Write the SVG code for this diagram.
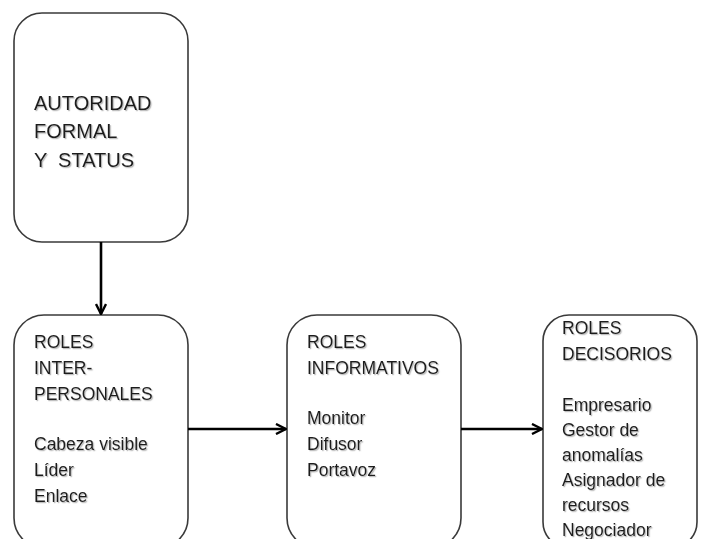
<svg xmlns="http://www.w3.org/2000/svg" width="705" height="539" viewBox="0 0 705 539">
  <style>
    .box { fill: #ffffff; stroke: #3a3a3a; stroke-width: 1.6; }
    .lbl { font-family: "Liberation Sans", Arial, sans-serif; fill: #1e1e1e; white-space: pre; filter: url(#textShadow); }
    .big { font-size: 20px; }
    .small { font-size: 17.5px; }
    .link { stroke: #000000; stroke-width: 2.6; fill: none; }
  </style>
  <defs>
    <filter id="textShadow" x="-5%" y="-20%" width="115%" height="150%">
      <feDropShadow dx="1.2" dy="1.2" stdDeviation="0.7" flood-color="#808080" flood-opacity="0.55"/>
    </filter>
    <marker id="arrow" viewBox="0 0 12 12" refX="11" refY="6" markerWidth="12" markerHeight="12" markerUnits="userSpaceOnUse" orient="auto">
      <path d="M1,1 L11,6 L1,11" fill="none" stroke="#000000" stroke-width="2.4"/>
    </marker>
  </defs>
  <rect width="705" height="539" fill="#ffffff"/>

  <g id="autoridad">
    <rect class="box" x="14" y="13" width="174" height="229" rx="28" ry="28"/>
    <text class="lbl big" x="34" y="110">AUTORIDAD</text>
    <text class="lbl big" x="34" y="138">FORMAL</text>
    <text class="lbl big" x="34" y="167">Y  STATUS</text>
  </g>

  <g id="interpersonales">
    <rect class="box" x="14" y="315" width="174" height="233" rx="30" ry="30"/>
    <text class="lbl small" x="34" y="348">ROLES</text>
    <text class="lbl small" x="34" y="374">INTER-</text>
    <text class="lbl small" x="34" y="400">PERSONALES</text>
    <text class="lbl small" x="34" y="450">Cabeza visible</text>
    <text class="lbl small" x="34" y="476">Líder</text>
    <text class="lbl small" x="34" y="502">Enlace</text>
  </g>

  <g id="informativos">
    <rect class="box" x="287" y="315" width="174" height="233" rx="30" ry="30"/>
    <text class="lbl small" x="307" y="348">ROLES</text>
    <text class="lbl small" x="307" y="374">INFORMATIVOS</text>
    <text class="lbl small" x="307" y="424">Monitor</text>
    <text class="lbl small" x="307" y="450">Difusor</text>
    <text class="lbl small" x="307" y="476">Portavoz</text>
  </g>

  <g id="decisorios">
    <rect class="box" x="543" y="315" width="154" height="233" rx="26" ry="26"/>
    <text class="lbl small" x="562" y="334">ROLES</text>
    <text class="lbl small" x="562" y="360">DECISORIOS</text>
    <text class="lbl small" x="562" y="411">Empresario</text>
    <text class="lbl small" x="562" y="436">Gestor de</text>
    <text class="lbl small" x="562" y="461">anomalías</text>
    <text class="lbl small" x="562" y="486">Asignador de</text>
    <text class="lbl small" x="562" y="511">recursos</text>
    <text class="lbl small" x="562" y="536">Negociador</text>
  </g>

  <g id="connectors">
    <line class="link" x1="101" y1="242" x2="101" y2="314" marker-end="url(#arrow)"/>
    <line class="link" x1="188" y1="429" x2="286" y2="429" marker-end="url(#arrow)"/>
    <line class="link" x1="461" y1="429" x2="542" y2="429" marker-end="url(#arrow)"/>
  </g>
</svg>
